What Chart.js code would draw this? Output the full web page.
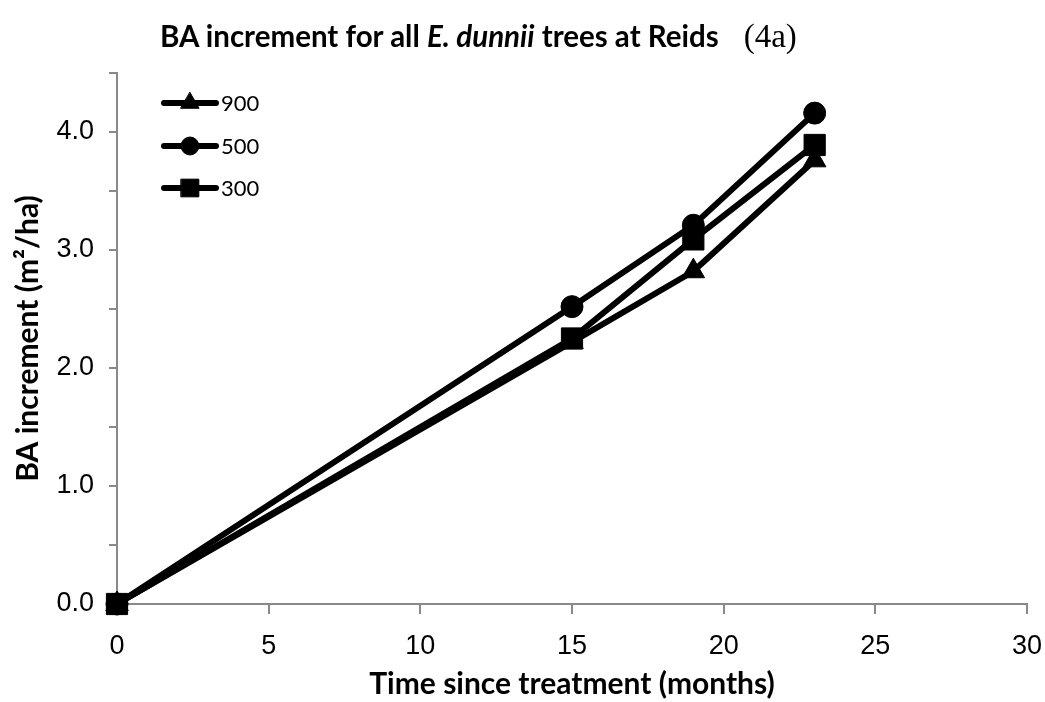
<!DOCTYPE html>
<html>
<head>
<meta charset="utf-8">
<script src="https://cdn.jsdelivr.net/npm/chart.js@4"></script>
<style>
html,body{margin:0;padding:0;background:#fff;}
#wrap{position:relative;width:1045px;height:702px;}
canvas{position:absolute;left:0;top:0;}
#title{position:absolute;left:160px;top:18px;white-space:nowrap;font-family:Lato,"Open Sans",sans-serif;font-weight:bold;font-size:29.5px;color:#000;}
#title .s{font-family:"Liberation Serif","Times New Roman",serif;font-weight:normal;font-size:33px;margin-left:25px;}
</style>
</head>
<body>
<div id="wrap">
<canvas id="c" width="1045" height="702"></canvas>
<div id="title">BA increment for all <i>E. dunnii</i> trees at Reids<span class="s">(4a)</span></div>
</div>
<script>
const months = [0, 15, 19, 23];
const seriesNames = ["900", "500", "300"];
const s900 = [0, 2.22, 2.82, 3.76];
const s500 = [0, 2.52, 3.21, 4.16];
const s300 = [0, 2.25, 3.09, 3.89];
const xTicks = [0, 5, 10, 15, 20, 25, 30];
const yTickLabels = ["0.0", "1.0", "2.0", "3.0", "4.0"];

const pts = (arr) => months.map((m, i) => ({x: m, y: arr[i]}));
const styles = ['triangle', 'circle', 'rect'];
const radii = [13, 11, 15];
const legendRadii = [10.5, 9, 12.5];
const vals = [s900, s500, s300];

const datasets = seriesNames.map((n, i) => ({
  label: n,
  data: pts(vals[i]),
  borderColor: '#000',
  backgroundColor: '#000',
  borderWidth: 6,
  pointStyle: styles[i],
  pointRadius: radii[i],
  pointHoverRadius: radii[i],
  pointBorderWidth: 1,
  pointBackgroundColor: '#000',
  pointBorderColor: '#000',
  clip: false,
  tension: 0
}));

const legendPlugin = {
  id: 'insideLegend',
  afterDraw(chart) {
    const ctx = chart.ctx;
    const ys = [103, 146, 188];
    ctx.save();
    chart.data.datasets.forEach((ds, i) => {
      const y = ys[i];
      ctx.strokeStyle = '#000';
      ctx.lineWidth = 6;
      ctx.lineCap = 'round';
      ctx.beginPath();
      ctx.moveTo(164, y);
      ctx.lineTo(216, y);
      ctx.stroke();
      ctx.fillStyle = '#000';
      ctx.strokeStyle = '#000';
      ctx.lineWidth = 1;
      Chart.helpers.drawPoint(ctx, {pointStyle: ds.pointStyle, radius: legendRadii[i], rotation: 0, borderWidth: 1}, 190, y);
      ctx.fillStyle = '#000';
      ctx.font = '22px Lato, "Open Sans", sans-serif';
      ctx.textBaseline = 'middle';
      ctx.textAlign = 'left';
      ctx.fillText(ds.label, 221, y + 1);
    });
    ctx.restore();
  }
};

new Chart(document.getElementById('c'), {
  type: 'line',
  data: { datasets },
  options: {
    responsive: false,
    animation: false,
    events: [],
    layout: { padding: { top: 73, right: 18, bottom: 0, left: 0 } },
    plugins: { legend: { display: false }, title: { display: false }, tooltip: { enabled: false } },
    scales: {
      x: {
        type: 'linear',
        min: 0, max: 30,
        afterBuildTicks(s) { s.ticks = xTicks.map(v => ({value: v})); },
        afterFit(s) { s.height = 98; s.paddingRight = 0; s.paddingLeft = 0; },
        border: { color: '#898989', width: 2 },
        grid: { drawOnChartArea: false, drawTicks: true, tickLength: 10, color: '#898989', lineWidth: 2 },
        ticks: { color: '#000', font: { family: '"Liberation Sans", Arial, sans-serif', size: 27 }, padding: 16, maxRotation: 0 },
        title: { display: true, text: 'Time since treatment (months)', color: '#000', font: { family: 'Lato, "Open Sans", sans-serif', size: 30, weight: 'bold' }, padding: { top: 0, bottom: 0 } }
      },
      y: {
        type: 'linear',
        min: 0, max: 4.5,
        ticks: {
          stepSize: 0.5,
          color: '#000',
          font: { family: '"Liberation Sans", Arial, sans-serif', size: 27 },
          padding: 15,
          callback: (v) => (Math.abs(v - Math.round(v)) < 1e-6 ? yTickLabels[Math.round(v)] : '')
        },
        afterFit(s) { s.width = 117; s.paddingTop = 0; s.paddingBottom = 0; },
        border: { color: '#898989', width: 2 },
        grid: { drawOnChartArea: false, drawTicks: true, tickLength: 8, color: '#898989', lineWidth: 2 },
        title: { display: true, text: 'BA increment (m²/ha)', color: '#000', font: { family: 'Lato, "Open Sans", sans-serif', size: 30, weight: 'bold' }, padding: { top: 10, bottom: 0 } }
      }
    }
  },
  plugins: [legendPlugin]
});
</script>
</body>
</html>
